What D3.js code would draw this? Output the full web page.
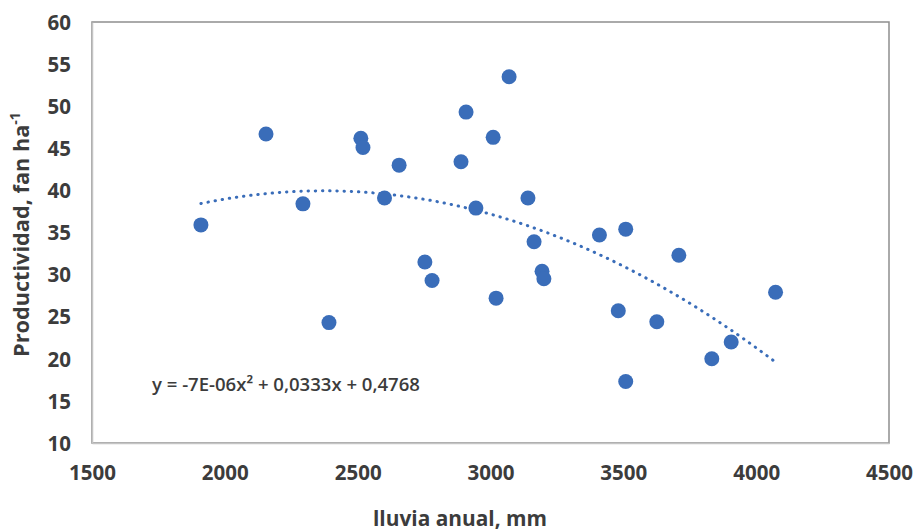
<!DOCTYPE html>
<html>
<head>
<meta charset="utf-8">
<script src="https://cdn.jsdelivr.net/npm/d3@7"></script>
<style>
  html, body { margin: 0; padding: 0; background: #ffffff; }
  svg { display: block; }
  text { font-family: "Open Sans", "Liberation Sans", sans-serif; }
</style>
</head>
<body>
<svg id="chart" width="916" height="532"></svg>
<script>
// ---- data ----
const rainfall = [1910, 2155, 2294, 2392, 2512, 2520, 2601, 2656, 2753, 2780,
                  2889, 2908, 2945, 3010, 3021, 3070, 3141, 3164, 3194, 3201,
                  3410, 3481, 3509, 3509, 3626, 3709, 3833, 3906, 4073];
const productivity = [35.9, 46.7, 38.4, 24.3, 46.2, 45.1, 39.1, 43.0, 31.5, 29.3,
                      43.4, 49.3, 37.9, 46.3, 27.2, 53.5, 39.1, 33.9, 30.4, 29.5,
                      34.7, 25.7, 35.4, 17.3, 24.4, 32.3, 20.0, 22.0, 27.9];
const xTicks = [1500, 2000, 2500, 3000, 3500, 4000, 4500];
const yTicks = [10, 15, 20, 25, 30, 35, 40, 45, 50, 55, 60];
const xTitle = "lluvia anual, mm";
const yTitle = "Productividad, fan ha";
const yTitleSup = "-1";
const equationText = "y = -7E-06x\u00B2 + 0,0333x + 0,4768";

// ---- layout ----
const W = 916, H = 532;
const plot = { left: 92, right: 889, top: 22, bottom: 443 };
const textColor = "#3c3c3c";
const dotColor = "#3a6db9";

const svg = d3.select("#chart");

const x = d3.scaleLinear().domain([1500, 4500]).range([plot.left, plot.right]);
const y = d3.scaleLinear().domain([10, 60]).range([plot.bottom, plot.top]);

function fitWidth(sel, target) {
  const n = sel.node();
  const fs = parseFloat(sel.attr("font-size"));
  const w = n.getComputedTextLength();
  if (w > 0) sel.attr("font-size", (fs * target / w).toFixed(2));
  return sel;
}

// plot area frame
svg.append("rect")
  .attr("x", plot.left).attr("y", plot.top)
  .attr("width", plot.right - plot.left).attr("height", plot.bottom - plot.top)
  .attr("fill", "#fff").attr("stroke", "#8e8e8e").attr("stroke-width", 1.5);

// axes
const xAxis = svg.append("g")
  .attr("transform", `translate(0,${plot.bottom})`)
  .call(d3.axisBottom(x).tickValues(xTicks).tickSize(0).tickPadding(22).tickFormat(d3.format("d")));
const yAxis = svg.append("g")
  .attr("transform", `translate(${plot.left},0)`)
  .call(d3.axisLeft(y).tickValues(yTicks).tickSize(0).tickPadding(21).tickFormat(d3.format("d")));

[xAxis, yAxis].forEach(g => {
  g.select(".domain").attr("stroke", "#c4c4c4").attr("stroke-width", 1.5);
  g.selectAll("text")
    .attr("fill", textColor)
    .attr("font-size", 20)
    .attr("font-weight", 700)
    .style("font-family", '"Open Sans", sans-serif');
});
// scale tick label size so that "1500" is ~47px wide
{
  const t = xAxis.select(".tick text");
  const fs = parseFloat(t.attr("font-size"));
  const w = t.node().getComputedTextLength();
  const nfs = fs * 47 / w;
  xAxis.selectAll("text").attr("font-size", nfs);
  yAxis.selectAll("text").attr("font-size", nfs);
}
xAxis.selectAll("text").attr("dy", "0.71em").attr("y", 22);
yAxis.selectAll("text").attr("dy", "0.35em");

// quadratic least-squares trend (computed from the data)
function quadFit(xs, ys) {
  const n = xs.length;
  let s = [0, 0, 0, 0, 0], t = [0, 0, 0];
  for (let i = 0; i < n; i++) {
    const xv = xs[i] / 1000, yv = ys[i];
    let p = 1;
    for (let k = 0; k < 5; k++) { s[k] += p; if (k < 3) t[k] += p * yv; p *= xv; }
  }
  const M = [[s[0], s[1], s[2], t[0]], [s[1], s[2], s[3], t[1]], [s[2], s[3], s[4], t[2]]];
  for (let i = 0; i < 3; i++) {
    let piv = i;
    for (let r = i + 1; r < 3; r++) if (Math.abs(M[r][i]) > Math.abs(M[piv][i])) piv = r;
    [M[i], M[piv]] = [M[piv], M[i]];
    for (let r = 0; r < 3; r++) {
      if (r === i) continue;
      const f = M[r][i] / M[i][i];
      for (let c = i; c < 4; c++) M[r][c] -= f * M[i][c];
    }
  }
  const c0 = M[0][3] / M[0][0], c1 = M[1][3] / M[1][1], c2 = M[2][3] / M[2][2];
  return xv => { const u = xv / 1000; return c0 + c1 * u + c2 * u * u; };
}
const trend = quadFit(rainfall, productivity);
const xMin = d3.min(rainfall), xMax = d3.max(rainfall);
const trendPts = d3.range(0, 101).map(i => xMin + (xMax - xMin) * i / 100);
svg.append("path")
  .datum(trendPts)
  .attr("d", d3.line().x(d => x(d)).y(d => y(trend(d))))
  .attr("fill", "none")
  .attr("stroke", dotColor)
  .attr("stroke-width", 3)
  .attr("stroke-linecap", "round")
  .attr("stroke-dasharray", "0.4 6.8");

// points
svg.append("g").selectAll("circle")
  .data(rainfall.map((r, i) => ({ r, p: productivity[i] })))
  .join("circle")
  .attr("cx", d => x(d.r))
  .attr("cy", d => y(d.p))
  .attr("r", 7.5)
  .attr("fill", dotColor);

// equation label
const eq = svg.append("text")
  .attr("x", 152).attr("y", 385).attr("dy", "0.35em")
  .attr("font-size", 16).attr("font-weight", 600)
  .attr("fill", textColor)
  .text(equationText);
fitWidth(eq, 268);

// x axis title
const xt = svg.append("text")
  .attr("x", 460).attr("y", 526)
  .attr("text-anchor", "middle")
  .attr("font-size", 20).attr("font-weight", 700)
  .attr("fill", textColor)
  .text(xTitle);
fitWidth(xt, 174);

// y axis title (rotated)
const yt = svg.append("text")
  .attr("transform", `translate(29,357) rotate(-90)`)
  .attr("font-size", 20).attr("font-weight", 700)
  .attr("fill", textColor);
yt.append("tspan").text(yTitle);
yt.append("tspan").attr("baseline-shift", "super").attr("font-size", "65%").text(yTitleSup);
fitWidth(yt, 245);
</script>
</body>
</html>
